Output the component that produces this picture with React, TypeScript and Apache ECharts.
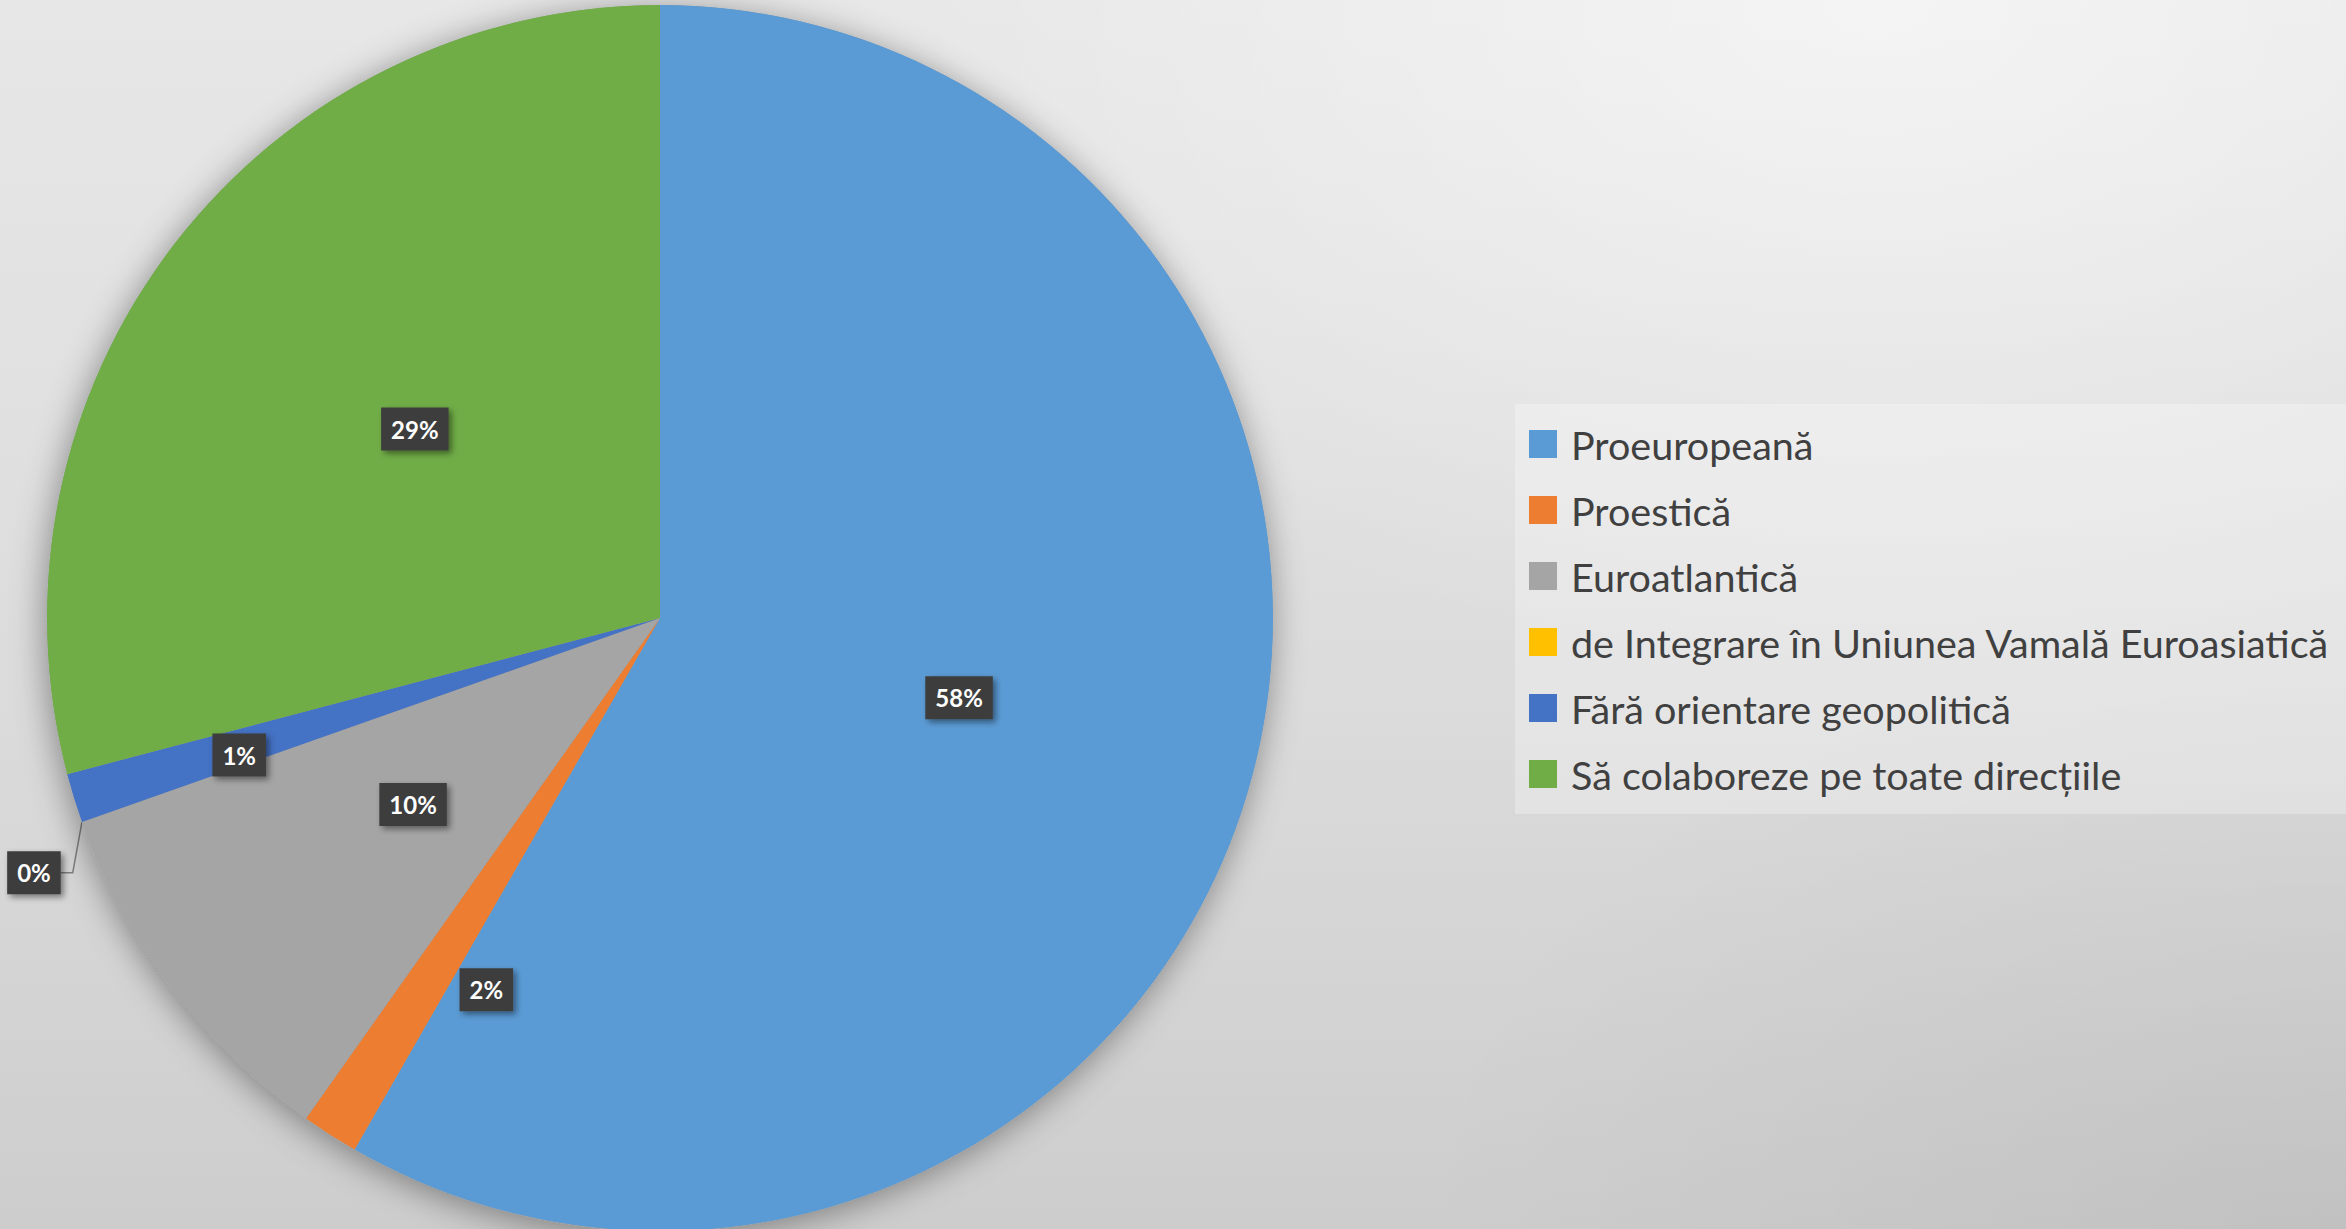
import React, { useEffect, useRef } from 'react';
import * as echarts from 'echarts';

const categories = [
  'Proeuropeană',
  'Proestică',
  'Euroatlantică',
  'de Integrare în Uniunea Vamală Euroasiatică',
  'Fără orientare geopolitică',
  'Să colaboreze pe toate direcțiile',
];
const values = [58.3, 1.5, 9.8, 0, 1.3, 29.1];
const colors = ['#5B9BD5', '#ED7D31', '#A5A5A5', '#FFC000', '#4472C4', '#70AD47'];

const W = 2346;
const H = 1229;
const CENTER = [660, 618];
const RADIUS = 613;

// Excel "best fit" nudges for a few labels (dx, dy from the default inside/outside spot)
const labelNudge: Record<number, [number, number]> = {
  1: [-7, 111],
  3: [7, 46],
  4: [-125, 46],
};

const fmt = (p: any) => Math.round(p.percent) + '%';

const boxLabel = {
  color: '#ffffff',
  fontFamily: 'Lato',
  fontWeight: 'bold' as const,
  fontSize: 24,
  backgroundColor: '#3e3e3e',
  padding: [10, 10, 9, 10],
  shadowBlur: 6,
  shadowColor: 'rgba(0,0,0,0.45)',
  shadowOffsetX: 3,
  shadowOffsetY: 3,
  formatter: fmt,
};

export default function App() {
  const ref = useRef<HTMLDivElement>(null);
  useEffect(() => {
    if (!ref.current) return;
    const chart = echarts.init(ref.current, undefined, { renderer: 'svg' });
    chart.setOption({
      animation: false,
      backgroundColor: 'transparent',
      legend: {
        orient: 'vertical',
        left: 1515,
        top: 404,
        padding: [18, 40, 18, 14],
        itemWidth: 28,
        itemHeight: 28,
        itemGap: 22,
        icon: 'rect',
        selectedMode: false,
        backgroundColor: 'rgba(255,255,255,0.28)',
        textStyle: {
          fontFamily: 'Lato',
          fontSize: 39.5,
          color: '#404040',
          lineHeight: 44,
          padding: [0, 0, 0, 9],
        },
        data: categories,
      },
      series: [
        {
          type: 'pie',
          name: 'shadow',
          silent: true,
          radius: RADIUS,
          center: CENTER,
          label: { show: false },
          labelLine: { show: false },
          data: [
            {
              name: '__shadow',
              value: 1,
              itemStyle: {
                color: '#9a9a9a',
                shadowBlur: 34,
                shadowColor: 'rgba(0,0,0,0.4)',
                shadowOffsetX: -2,
                shadowOffsetY: 5,
              },
            },
          ],
        },
        {
          type: 'pie',
          name: 'main',
          radius: RADIUS,
          center: CENTER,
          startAngle: 90,
          clockwise: true,
          avoidLabelOverlap: false,
          percentPrecision: 2,
          label: { show: true, position: 'inside', ...boxLabel },
          labelLine: {
            show: false,
            length: 14,
            length2: 10,
            lineStyle: { color: '#7f7f7f', width: 1.5 },
          },
          labelLayout: (p: any) => {
            const n = labelNudge[p.dataIndex];
            if (!n) return {};
            const [dx, dy] = n;
            const out: any = { dx, dy };
            if (p.labelLinePoints && p.labelLinePoints.length) {
              const r = p.labelRect;
              const right = r.x + dx + r.width;
              const cy = r.y + dy + r.height / 2;
              out.labelLinePoints = [p.labelLinePoints[0], [right + 12, cy], [right, cy]];
            }
            return out;
          },
          data: categories.map((name, i) => ({
            name,
            value: values[i],
            itemStyle: { color: colors[i] },
            label: i === 3 ? { show: true, position: 'outside' } : { show: true },
            labelLine: { show: i === 3 },
          })),
        },
      ],
    });
    return () => chart.dispose();
  }, []);
  return (
    <div
      style={{
        position: 'absolute',
        left: 0,
        top: 0,
        width: W,
        height: H,
        overflow: 'hidden',
        background:
          'radial-gradient(ellipse 45% 55% at 80% 0%, rgba(255,255,255,0.55), rgba(255,255,255,0) 100%), radial-gradient(ellipse 40% 50% at 100% 100%, rgba(0,0,0,0.06), rgba(0,0,0,0) 100%), linear-gradient(to bottom, #e7e7e7 0%, #dcdcdc 55%, #cdcdcd 100%)',
      }}
    >
      <div ref={ref} style={{ width: W, height: H }} />
    </div>
  );
}
